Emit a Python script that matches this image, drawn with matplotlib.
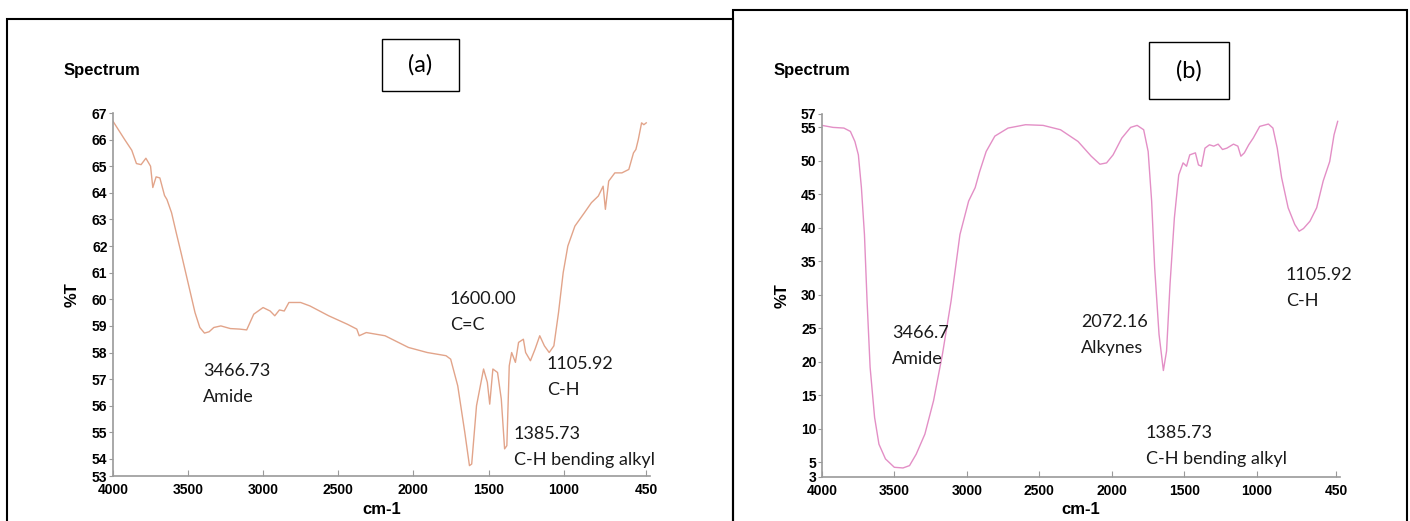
import matplotlib
matplotlib.use("Agg")
import matplotlib.pyplot as plt
from matplotlib.patches import Rectangle

# spectrum (a): wavenumber (cm-1) and %T
wn_a = [4000, 3922, 3875, 3844, 3813, 3781, 3750, 3735, 3713, 3688, 3657, 3641, 3610,
        3579, 3547, 3516, 3485, 3454, 3422, 3391, 3360, 3329, 3282, 3219, 3157, 3110,
        3063, 3001, 2954, 2923, 2892, 2860, 2829, 2751, 2689, 2564, 2439, 2377, 2361,
        2314, 2189, 2033, 1908, 1783, 1752, 1705, 1658, 1627, 1612, 1580, 1533, 1508,
        1492, 1471, 1440, 1415, 1393, 1378, 1362, 1346, 1321, 1300, 1268, 1253, 1221,
        1190, 1159, 1128, 1096, 1065, 1034, 1003, 972, 925, 862, 815, 769, 737, 722,
        700, 659, 612, 566, 535, 519, 503, 481, 466, 450]
t_a = [66.69, 66.0, 65.6, 65.1, 65.06, 65.3, 65.0, 64.2, 64.6, 64.56, 63.9, 63.75, 63.25,
       62.5, 61.75, 61.0, 60.25, 59.5, 58.94, 58.73, 58.78, 58.94, 59.0, 58.9, 58.88, 58.85,
       59.44, 59.69, 59.56, 59.38, 59.6, 59.56, 59.88, 59.88, 59.75, 59.38, 59.06, 58.88, 58.63,
       58.75, 58.63, 58.19, 58.0, 57.88, 57.75, 56.75, 55.0, 53.75, 53.81, 56.0, 57.38, 56.88,
       56.06, 57.38, 57.25, 56.25, 54.38, 54.5, 57.5, 58.0, 57.63, 58.38, 58.5, 58.0, 57.69,
       58.13, 58.63, 58.25, 58.0, 58.25, 59.5, 61.0, 62.0, 62.75, 63.25, 63.63, 63.88, 64.25, 63.38,
       64.44, 64.75, 64.75, 64.88, 65.5, 65.63, 66.0, 66.63, 66.56, 66.63]

# spectrum (b)
wn_b = [4000, 3924, 3849, 3804, 3773, 3749, 3728, 3707, 3689, 3668, 3637, 3607, 3562,
        3501, 3441, 3396, 3350, 3290, 3230, 3169, 3109, 3048, 2988, 2943, 2912, 2867,
        2807, 2716, 2595, 2474, 2354, 2233, 2142, 2082, 2036, 1991, 1931, 1870, 1825,
        1780, 1749, 1725, 1704, 1674, 1644, 1622, 1598, 1568, 1538, 1508, 1484, 1462,
        1423, 1402, 1381, 1357, 1326, 1296, 1266, 1236, 1206, 1160, 1130, 1109, 1085,
        1055, 1024, 979, 919, 888, 858, 828, 783, 737, 707, 677, 632, 586, 541, 496, 466, 441]
t_b = [55.3, 55.0, 54.9, 54.4, 52.9, 50.9, 46.0, 39.0, 29.1, 19.2, 11.7, 7.7, 5.5,
       4.25, 4.15, 4.5, 6.2, 9.2, 14.2, 21.1, 29.1, 39.0, 44.0, 46.0, 48.4, 51.4,
       53.7, 54.9, 55.4, 55.3, 54.65, 52.9, 50.7, 49.5, 49.7, 50.9, 53.4, 55.0, 55.3,
       54.65, 51.4, 44.0, 34.0, 24.1, 18.7, 21.6, 31.6, 41.5, 47.9, 49.7, 49.2, 50.9,
       51.2, 49.4, 49.2, 51.9, 52.4, 52.2, 52.5, 51.7, 51.9, 52.5, 52.2, 50.7, 51.2,
       52.4, 53.4, 55.15, 55.5, 54.9, 51.9, 47.5, 43.0, 40.5, 39.5, 39.9, 41.0, 43.0, 47.0, 49.9, 53.9, 55.9]

xticks = [4000, 3500, 3000, 2500, 2000, 1500, 1000, 450]
yticks_a = [53.36] + list(range(54, 68))
ylabels_a = [str(v) for v in range(53, 68)]
yticks_b = [2.8, 5, 10, 15, 20, 25, 30, 35, 40, 45, 50, 55, 57]
ylabels_b = ["3", "5", "10", "15", "20", "25", "30", "35", "40", "45", "50", "55", "57"]

notes_a = [("3466.73\nAmide", 203, 384), ("1600.00\nC=C", 450, 312),
           ("1105.92\nC-H", 547, 377), ("1385.73\nC-H bending alkyl", 514, 447)]
notes_b = [("3466.7\nAmide", 892, 346), ("2072.16\nAlkynes", 1081, 335),
           ("1105.92\nC-H", 1286, 288), ("1385.73\nC-H bending alkyl", 1146, 446)]

W, H = 1410, 521
arial = ["Liberation Sans", "DejaVu Sans"]
calib = ["Lato", "DejaVu Sans"]

fig = plt.figure(figsize=(W / 100, H / 100), dpi=100)


def fx(x):
    return x / W


def fy(y):
    return 1 - y / H


def panel(x0, x1, y0, y1, wn, t, color, yt, yl, ylim, notes, tag, tagbox, left):
    ax = fig.add_axes([fx(x0), fy(y1), fx(x1 - x0), (y1 - y0) / H])
    ax.plot(wn, t, color=color, lw=1.0)
    ax.set_xlim(4000, 425)
    ax.set_ylim(*ylim)
    ax.set_xticks(xticks)
    ax.set_xticklabels([str(v) for v in xticks], family=arial, weight="bold", fontsize=10)
    ax.set_yticks(yt)
    ax.set_yticklabels(yl, family=arial, weight="bold", fontsize=10)
    for s in ["top", "right"]:
        ax.spines[s].set_visible(False)
    for s in ["left", "bottom"]:
        ax.spines[s].set_color("#9a9a9a")
        ax.spines[s].set_linewidth(1.2)
    ax.tick_params(axis="y", direction="out", length=3, color="#9a9a9a", pad=1)
    ax.tick_params(axis="x", direction="in", length=4, color="#9a9a9a", pad=5)
    for txt, x, y in notes:
        fig.text(fx(x), fy(y), txt, family=calib, fontsize=13, ha="left", va="center",
                 linespacing=1.7, color="#1a1a1a")
    fig.text(fx(left + 2), fy(70), "Spectrum", family=arial, weight="bold", fontsize=12,
             ha="left", va="center")
    fig.text(fx(left + 10), fy((y0 + y1) / 2), "%T", family=arial, weight="bold",
             fontsize=12, rotation=90, ha="center", va="center")
    fig.text(fx((x0 + x1) / 2), fy(510), "cm-1", family=arial, weight="bold", fontsize=12,
             ha="center", va="center")
    bx0, by0, bx1, by1 = tagbox
    fig.patches.append(Rectangle((fx(bx0), fy(by1)), fx(bx1 - bx0), (by1 - by0) / H,
                                 transform=fig.transFigure, fill=False, ec="black", lw=1.0))
    fig.text(fx((bx0 + bx1) / 2), fy((by0 + by1) / 2), tag, family=calib,
             fontsize=17, ha="center", va="center")
    return ax


panel(113, 650, 113, 476, wn_a, t_a, "#e2a48a", yticks_a, ylabels_a, (53.36, 67),
      notes_a, "(a)", (382, 39, 459, 91), 62)
panel(822, 1340, 114, 477, wn_b, t_b, "#e38fc6", yticks_b, ylabels_b, (2.8, 57),
      notes_b, "(b)", (1149, 42, 1229, 99), 772)

# outer frames around the two panels
fig.patches.append(Rectangle((fx(7), fy(540)), fx(726), 521 / H, transform=fig.transFigure,
                             fill=False, ec="black", lw=1.5))
fig.patches.append(Rectangle((fx(733), fy(540)), fx(674), 530 / H, transform=fig.transFigure,
                             fill=False, ec="black", lw=1.5))

fig.savefig("out.png", dpi=100)
